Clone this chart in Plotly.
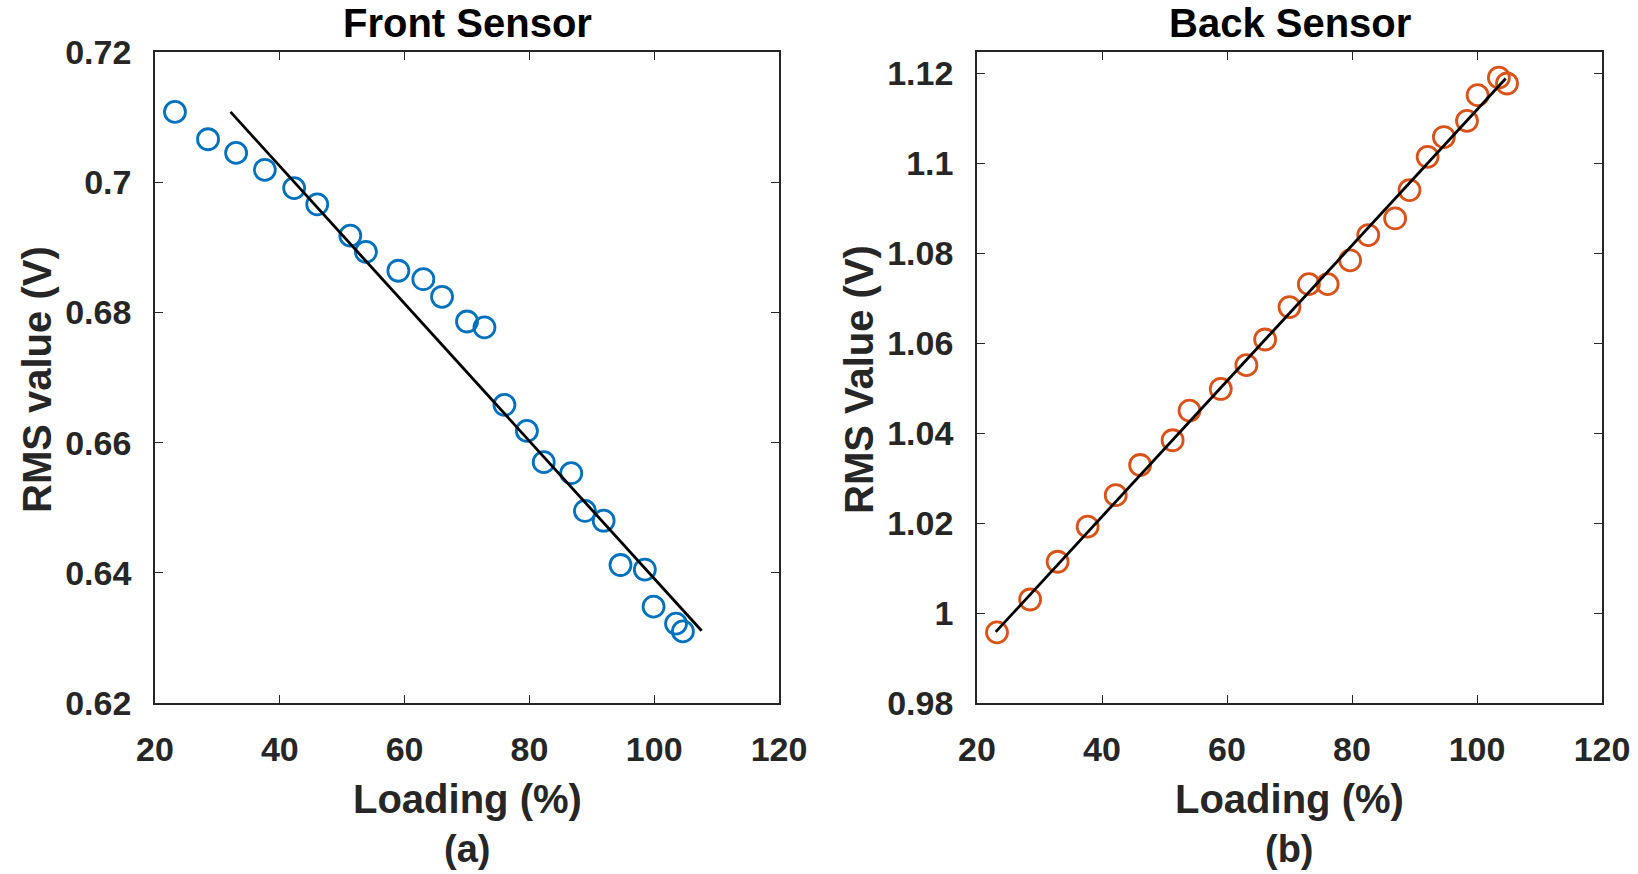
import plotly.graph_objects as go

# ---------------- data ----------------
front_x = [23.2, 28.5, 33.0, 37.6, 42.3, 46.0, 51.3, 53.8, 59.0, 63.0, 66.0, 70.0,
           72.8, 76.0, 79.6, 82.3, 86.7, 88.9, 91.9, 94.6, 98.5, 99.9, 103.5, 104.6]
front_y = [0.7108, 0.7066, 0.7045, 0.7019, 0.6991, 0.6966, 0.6918, 0.6893, 0.6864,
           0.6851, 0.6824, 0.6786, 0.6777, 0.6658, 0.6618, 0.6570, 0.6553, 0.6495,
           0.6480, 0.6412, 0.6405, 0.6348, 0.6322, 0.6310]
front_fit_x = [32.1, 107.6]
front_fit_y = [0.7108, 0.6311]

back_x = [23.2, 28.5, 32.9, 37.7, 42.2, 46.1, 51.3, 54.0, 59.0, 63.1, 66.1, 70.0,
          73.1, 76.1, 79.7, 82.6, 86.9, 89.2, 92.1, 94.7, 98.4, 100.1, 103.5, 104.8]
back_y = [0.9957, 1.0030, 1.0114, 1.0192, 1.0262, 1.0329, 1.0384, 1.0450, 1.0498,
          1.0551, 1.0608, 1.0680, 1.0731, 1.0731, 1.0784, 1.0840, 1.0877, 1.0940,
          1.1014, 1.1058, 1.1094, 1.1151, 1.1190, 1.1177]
back_fit_x = [23.0, 104.6]
back_fit_y = [0.9958, 1.1188]

x_ticks = [20, 40, 60, 80, 100, 120]
front_yticks = [0.62, 0.64, 0.66, 0.68, 0.70, 0.72]
front_ylabels = ["0.62", "0.64", "0.66", "0.68", "0.7", "0.72"]
back_yticks = [0.98, 1.00, 1.02, 1.04, 1.06, 1.08, 1.10, 1.12]
back_ylabels = ["0.98", "1", "1.02", "1.04", "1.06", "1.08", "1.1", "1.12"]

# ---------------- layout ----------------
W, H = 1638, 874
FONT = "Liberation Sans, Arial, sans-serif"
AX = "#262626"
BLUE = "#0072BD"
ORANGE = "#D95319"

def px(x):
    return x / W

def py(y):
    return 1 - y / H

left_dom = [px(155), px(779)]
right_dom = [px(977), px(1602)]
y_dom = [py(703), py(52)]

fig = go.Figure()

fig.add_trace(go.Scatter(x=front_x, y=front_y, mode="markers", xaxis="x", yaxis="y",
                         marker=dict(symbol="circle-open", size=21, color=BLUE,
                                     line=dict(width=2.8, color=BLUE)),
                         showlegend=False, cliponaxis=False))
fig.add_trace(go.Scatter(x=front_fit_x, y=front_fit_y, mode="lines", xaxis="x", yaxis="y",
                         line=dict(color="black", width=2.8), showlegend=False))
fig.add_trace(go.Scatter(x=back_x, y=back_y, mode="markers", xaxis="x2", yaxis="y2",
                         marker=dict(symbol="circle-open", size=21, color=ORANGE,
                                     line=dict(width=2.8, color=ORANGE)),
                         showlegend=False, cliponaxis=False))
fig.add_trace(go.Scatter(x=back_fit_x, y=back_fit_y, mode="lines", xaxis="x2", yaxis="y2",
                         line=dict(color="black", width=2.8), showlegend=False))

tickfont = dict(family=FONT, size=34, color=AX, weight="bold")
common = dict(showline=True, linecolor=AX, linewidth=1.6, mirror="ticks",
              ticks="inside", ticklen=8, tickwidth=1.4, tickcolor=AX,
              showgrid=False, zeroline=False, tickfont=tickfont, automargin=False)

fig.update_layout(
    width=W, height=H, autosize=False,
    margin=dict(l=0, r=0, t=0, b=0, pad=0),
    paper_bgcolor="white", plot_bgcolor="white",
    xaxis=dict(domain=left_dom, anchor="y", range=[20, 120], tickvals=x_ticks,
               ticktext=[str(v) for v in x_ticks], ticklabelstandoff=15, **common),
    yaxis=dict(domain=y_dom, anchor="x", range=[0.62, 0.72], tickvals=front_yticks,
               ticktext=front_ylabels, ticklabelstandoff=15, **common),
    xaxis2=dict(domain=right_dom, anchor="y2", range=[20, 120], tickvals=x_ticks,
                ticktext=[str(v) for v in x_ticks], ticklabelstandoff=15, **common),
    yaxis2=dict(domain=y_dom, anchor="x2", range=[0.98, 1.1247], tickvals=back_yticks,
                ticktext=back_ylabels, ticklabelstandoff=15, **common),
)

title_font = dict(family=FONT, size=40, color="black")
label_font = dict(family=FONT, size=40, color=AX)
tag_font = dict(family=FONT, size=38, color=AX)
ann = []
for dom, title, ylab, tag in [(left_dom, "<b>Front Sensor</b>", "<b>RMS value (V)</b>", "<b>(a)</b>"),
                              (right_dom, "<b>Back Sensor</b>", "<b>RMS Value (V)</b>", "<b>(b)</b>")]:
    cx = (dom[0] + dom[1]) / 2
    ann.append(dict(text=title, x=cx, y=py(23), xref="paper", yref="paper",
                    xanchor="center", yanchor="middle", showarrow=False, font=title_font))
    ann.append(dict(text="<b>Loading (%)</b>", x=cx, y=py(799), xref="paper", yref="paper",
                    xanchor="center", yanchor="middle", showarrow=False, font=label_font))
    ann.append(dict(text=tag, x=cx, y=py(849), xref="paper", yref="paper",
                    xanchor="center", yanchor="middle", showarrow=False, font=tag_font))
    ann.append(dict(text=ylab, x=dom[0] - px(118), y=py(380), xref="paper", yref="paper",
                    xanchor="center", yanchor="middle", showarrow=False, textangle=-90,
                    font=label_font))
fig.update_layout(annotations=ann)

fig.write_html("out.html")
